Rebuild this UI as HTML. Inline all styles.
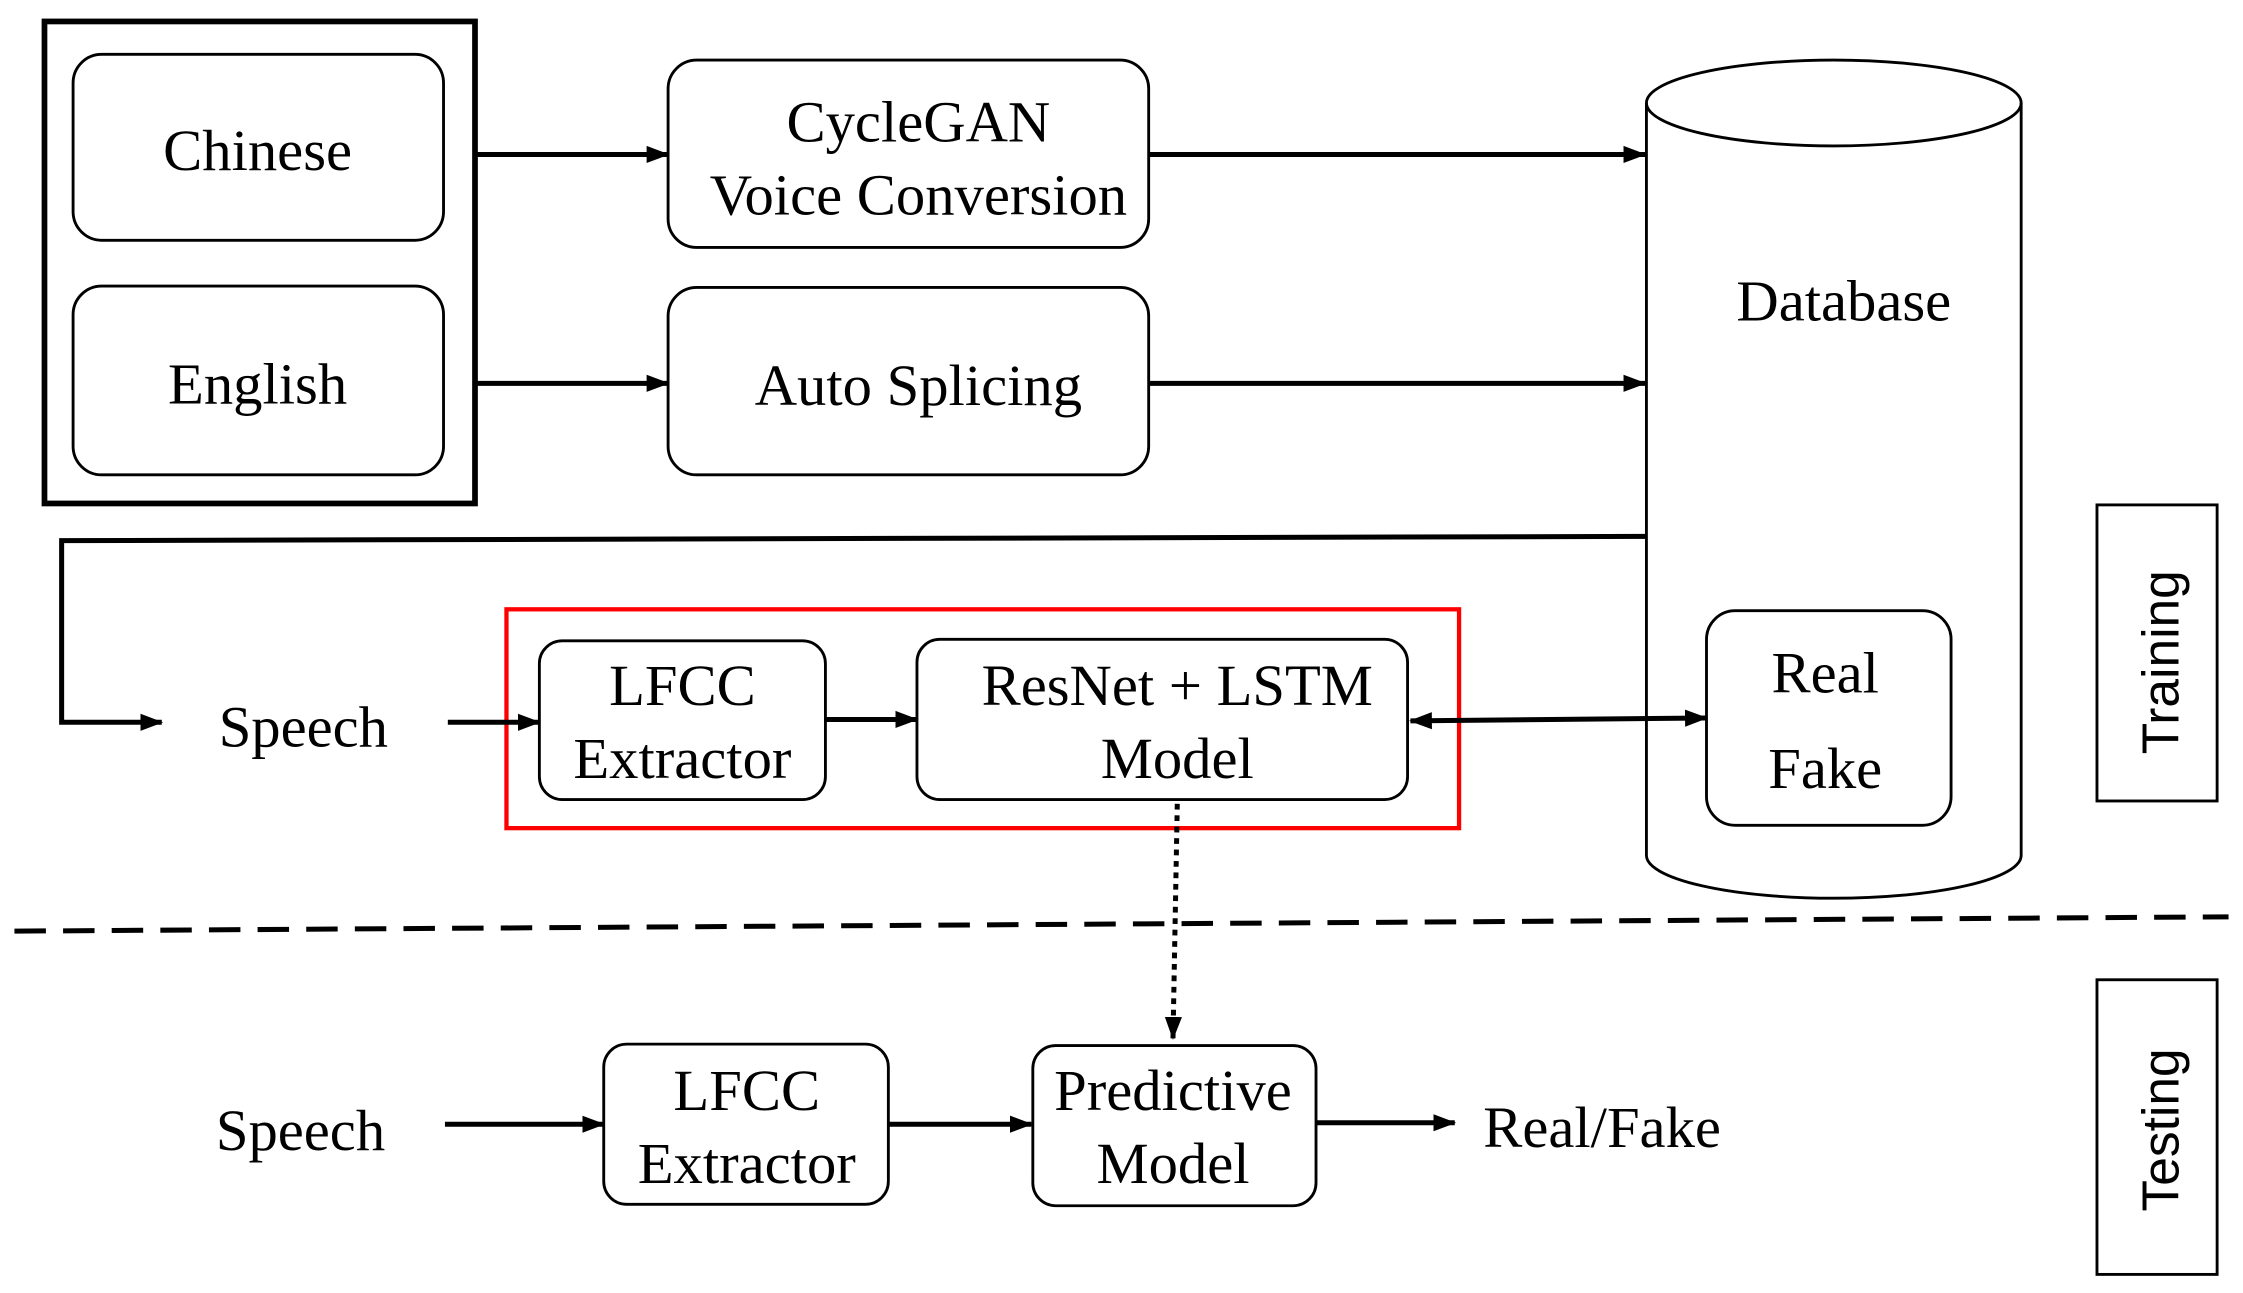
<!DOCTYPE html>
<html><head><meta charset="utf-8"><style>html,body{margin:0;padding:0;background:#fff}svg{display:block}</style></head>
<body>
<svg width="2243" height="1293" viewBox="0 0 1568 904" xmlns="http://www.w3.org/2000/svg">
<defs>
<marker id="a" markerWidth="16" markerHeight="14" refX="15" refY="7" orient="auto" markerUnits="userSpaceOnUse"><path d="M0,1 L16,7 L0,13 z" fill="#000"/></marker>
<marker id="b" markerWidth="16" markerHeight="14" refX="1" refY="7" orient="auto" markerUnits="userSpaceOnUse"><path d="M16,1 L0,7 L16,13 z" fill="#000"/></marker>
</defs>
<g fill="none" stroke="#000" stroke-width="2">
<rect x="31" y="15" width="301" height="337" stroke-width="4"/>
<rect x="51" y="38" width="259" height="130" rx="20"/>
<rect x="51" y="200" width="259" height="132" rx="20"/>
<rect x="467" y="42" width="336" height="131" rx="20"/>
<rect x="467" y="201" width="336" height="131" rx="20"/>
<path d="M1151,72 L1151,598 A131,30 0 0 0 1413,598 L1413,72"/>
<ellipse cx="1282" cy="72" rx="131" ry="30"/>
<rect x="1193" y="427" width="171" height="150" rx="20"/>
<rect x="377" y="448" width="200" height="111" rx="16"/>
<rect x="641" y="447" width="343" height="112" rx="16"/>
<rect x="354" y="426" width="666" height="153" stroke="#f00" stroke-width="3"/>
<rect x="1466" y="353" width="84" height="207"/>
<rect x="1466" y="685" width="84" height="206"/>
<rect x="422" y="730" width="199" height="112" rx="16"/>
<rect x="722" y="731" width="198" height="112" rx="16"/>
</g>
<g stroke="#000" stroke-width="3.5" fill="none">
<line x1="332" y1="108" x2="467" y2="108" marker-end="url(#a)"/>
<line x1="332" y1="268" x2="467" y2="268" marker-end="url(#a)"/>
<line x1="803" y1="108" x2="1150" y2="108" marker-end="url(#a)"/>
<line x1="803" y1="268" x2="1150" y2="268" marker-end="url(#a)"/>
<polyline points="1151,375 43,378 43,505 113,505" marker-end="url(#a)"/>
<line x1="313" y1="505" x2="377" y2="505" marker-end="url(#a)"/>
<line x1="577" y1="503" x2="641" y2="503" marker-end="url(#a)"/>
<line x1="986" y1="504" x2="1193" y2="502" marker-end="url(#a)" marker-start="url(#b)"/>
<line x1="823" y1="562" x2="820" y2="726" stroke-dasharray="4,4" marker-end="url(#a)"/>
<line x1="10" y1="651" x2="1558" y2="641" stroke-dasharray="22,12"/>
<line x1="311" y1="786" x2="422" y2="786" marker-end="url(#a)"/>
<line x1="621" y1="786" x2="721" y2="786" marker-end="url(#a)"/>
<line x1="920" y1="785" x2="1017" y2="785" marker-end="url(#a)"/>
</g>
<g font-family="Liberation Serif, serif" font-size="41" text-anchor="middle" fill="#000">
<text x="180" y="119">Chinese</text>
<text x="180" y="282">English</text>
<text x="642" y="99">CycleGAN</text>
<text x="642" y="150">Voice Conversion</text>
<text x="642" y="283">Auto Splicing</text>
<text x="1289" y="224">Database</text>
<text x="1276" y="484">Real</text>
<text x="1276" y="551">Fake</text>
<text x="212" y="522">Speech</text>
<text x="477" y="493">LFCC</text>
<text x="477" y="544">Extractor</text>
<text x="823" y="493">ResNet + LSTM</text>
<text x="823" y="544">Model</text>
<text x="210" y="804">Speech</text>
<text x="522" y="776">LFCC</text>
<text x="522" y="827">Extractor</text>
<text x="820" y="776">Predictive</text>
<text x="820" y="827">Model</text>
<text x="1120" y="802">Real/Fake</text>
</g>
<g font-family="Liberation Sans, sans-serif" font-size="36" text-anchor="middle" fill="#000">
<text transform="translate(1523,463) rotate(-90)">Training</text>
<text transform="translate(1523,790) rotate(-90)">Testing</text>
</g>
</svg>
</body></html>
